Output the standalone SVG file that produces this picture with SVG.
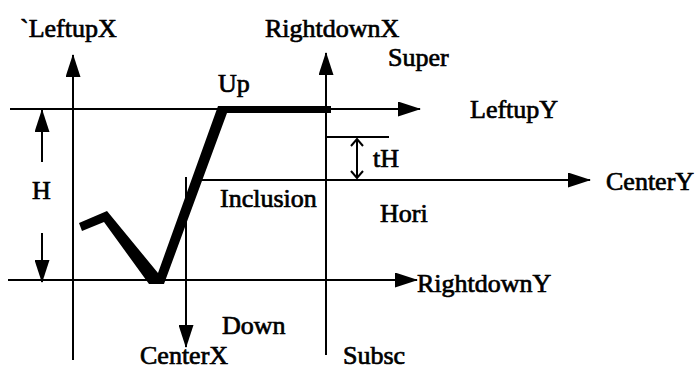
<svg xmlns="http://www.w3.org/2000/svg" width="696" height="370" viewBox="0 0 696 370">
<style>
text{font-family:"Liberation Serif","Times New Roman",serif;font-size:26px;fill:#000;stroke:#000;stroke-width:0.7}
.ln{stroke:#000;stroke-width:2;fill:none}
</style>
<defs>
<marker id="big" viewBox="0 0 23 15" refX="22" refY="7.5" markerWidth="23" markerHeight="15" markerUnits="userSpaceOnUse" orient="auto"><path d="M0,0 L23,7.5 L0,15 z" fill="#000"/></marker>
<marker id="open" viewBox="0 0 9 14" refX="8" refY="7" markerWidth="9" markerHeight="14" markerUnits="userSpaceOnUse" orient="auto-start-reverse"><path d="M1,1 L8,7 L1,13" fill="none" stroke="#000" stroke-width="2"/></marker>
</defs>
<g id="connectors">
<line class="ln" x1="73" y1="360" x2="73" y2="55" marker-end="url(#big)"/>
<line class="ln" x1="326" y1="355" x2="326" y2="53" marker-end="url(#big)"/>
<line class="ln" x1="10" y1="109" x2="420" y2="109" marker-end="url(#big)"/>
<line class="ln" x1="195" y1="180" x2="590" y2="180" marker-end="url(#big)"/>
<line class="ln" x1="8" y1="280" x2="417" y2="280" marker-end="url(#big)"/>
<line class="ln" x1="186" y1="177" x2="186" y2="347" marker-end="url(#big)"/>
<line class="ln" x1="326" y1="137" x2="389" y2="137"/>
<line class="ln" x1="357" y1="139" x2="357" y2="178" marker-start="url(#open)" marker-end="url(#open)"/>
<line class="ln" x1="42" y1="162" x2="42" y2="110" marker-end="url(#big)"/>
<line class="ln" x1="42" y1="233" x2="42" y2="282" marker-end="url(#big)"/>
</g>
<g id="check">
<polygon points="79,223 107,211 158,273 218,106 331,106 331,113 227,113 164,284 149,284 104,222 82,231" fill="#000"/>
</g>
<g id="labels">
<text x="20" y="37">`LeftupX</text>
<text x="265" y="37">RightdownX</text>
<text x="388" y="66">Super</text>
<text x="218" y="92">Up</text>
<text x="470" y="118">LeftupY</text>
<text x="373" y="167">tH</text>
<text x="606" y="190">CenterY</text>
<text x="220" y="207">Inclusion</text>
<text x="32" y="199">H</text>
<text x="380" y="222">Hori</text>
<text x="417" y="292">RightdownY</text>
<text x="222" y="334">Down</text>
<text x="140" y="364">CenterX</text>
<text x="343" y="364">Subsc</text>
</g>
</svg>
